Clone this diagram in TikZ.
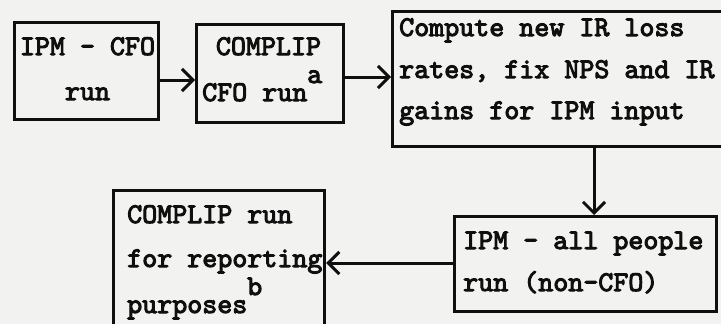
\documentclass[tikz,border=0pt]{standalone}
\usepackage{fontspec}
\newfontfamily\tw{lmmono10-regular.otf}[FakeBold=3.5]
\usetikzlibrary{arrows.meta}
\definecolor{bg}{RGB}{242,242,240}
\definecolor{ink}{RGB}{15,15,15}
\begin{document}
\begin{tikzpicture}[x=1pt,y=-1pt,
  box/.style={draw=ink, line width=3.2pt, anchor=north west, inner sep=0pt},
  txt/.style={font=\tw\fontsize{28.6}{28.6}\selectfont, text=ink, inner sep=0pt},
  arr/.style={draw=ink, line width=3pt, -{Straight Barb[length=11pt,width=22pt,line width=3pt]}}]
\useasboundingbox (0,0) rectangle (721,324);
\fill[bg] (0,0) rectangle (721,324);
\clip (0,0) rectangle (721,324);
% boxes
\node[box, minimum width=144pt, minimum height=97pt] (b1) at (13,21) {};
\node[box, minimum width=147pt, minimum height=98pt] (b2) at (195,23) {};
\node[box, minimum width=340pt, minimum height=135pt] (b3) at (391,10) {};
\node[box, minimum width=262pt, minimum height=95pt] (b4) at (453,215) {};
\node[box, minimum width=211pt, minimum height=150pt] (b5) at (112,189) {};
% texts
\node[txt, anchor=base] (t1a) at (87.5,55) {IPM - CFO};
\node[txt, anchor=base] (t1b) at (87.5,100) {run};
\node[txt, anchor=base] (t2a) at (268.5,55) {COMPLIP};
\node[txt, anchor=base west] (t2b) at (202,101) {CFO run};
\node[txt, anchor=base west] (t2c) at (307,83) {a};
\node[txt, anchor=base west] (t3a) at (399,36) {Compute new IR loss};
\node[txt, anchor=base west] (t3b) at (399,78) {rates, fix NPS and IR};
\node[txt, anchor=base west] (t3c) at (399,119) {gains for IPM input};
\node[txt, anchor=base west] (t4a) at (463,249) {IPM - all people};
\node[txt, anchor=base west] (t4b) at (463,291) {run (non-CFO)};
\node[txt, anchor=base west] (t5a) at (127,223) {COMPLIP run};
\node[txt, anchor=base west] (t5b) at (127,267) {for reporting};
\node[txt, anchor=base west] (t5c) at (127,313) {purposes};
\node[txt, anchor=base west] (t5d) at (247,295) {b};
% connectors
\coordinate (y1) at (0,80);
\coordinate (y2) at (0,77);
\coordinate (x3) at (594,0);
\coordinate (y4) at (0,263);
\draw[arr] (b1.east |- y1) -- (b2.west |- y1);
\draw[arr] (b2.east |- y2) -- (b3.west |- y2);
\draw[arr] (b3.south -| x3) -- (b4.north -| x3);
\draw[arr] (b4.west |- y4) -- (b5.east |- y4);
\end{tikzpicture}
\end{document}
